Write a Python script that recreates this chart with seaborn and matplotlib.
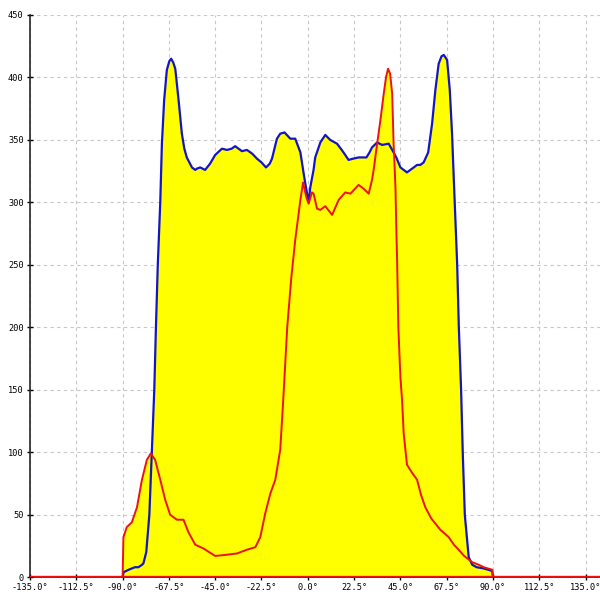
import seaborn as sns
import pandas as pd
from matplotlib import pyplot as plt
import matplotlib.ticker as mtick

# Angles (deg) and intensities
blue_angle = [-90.0, -89.5, -87.0, -84.0, -82.3, -80.5, -79.9, -78.5, -77.0, -75.8, -74.6,
              -73.8, -72.9, -71.7, -70.9, -69.8, -68.5, -67.3, -66.4, -65.4, -64.4, -62.8,
              -61.2, -60.0, -58.8, -56.3, -54.7, -53.9, -52.3, -49.9, -47.5, -45.0, -41.7,
              -39.3, -37.0, -35.3, -32.0, -29.6, -27.0, -24.7, -22.5, -20.3, -18.5, -17.4,
              -15.0, -13.4, -11.3, -8.5, -6.1, -3.6, -2.0, -1.2, 0.4, 1.2, 2.8, 3.6, 6.1,
              8.5, 10.9, 14.2, 16.5, 18.2, 19.8, 22.0, 24.7, 28.5, 30.0, 31.2, 33.7, 36.1,
              39.3, 41.7, 43.0, 45.0, 46.6, 48.2, 49.0, 51.5, 53.1, 54.7, 56.3, 58.5, 60.4,
              62.0, 63.6, 65.0, 66.1, 67.7, 69.0, 70.1, 70.4, 71.4, 72.6, 73.4, 74.5, 75.3,
              76.3, 78.2, 79.9, 82.0, 85.5, 89.6, 90.0]
blue_value = [0, 4, 6, 8, 8, 10, 11, 20, 50, 100, 150,
              200, 250, 300, 347, 382, 406, 413, 415, 412, 407, 382,
              355, 343, 336, 328, 326, 327, 328, 326, 331, 338, 343,
              342, 343, 345, 341, 342, 339, 335, 332, 328, 331, 335,
              351, 355, 356, 351, 351, 340, 323, 315, 300, 312, 326, 336, 348,
              354, 350, 347, 342, 338, 334, 335, 336, 336, 340, 344, 348, 346,
              347, 340, 336, 328, 326, 324, 325, 328, 330, 330, 332, 340, 363,
              390, 411, 417, 418, 414, 390, 355, 342, 300, 250, 200, 150, 100,
              50, 16, 10, 8, 7, 5, 0]

red_angle = [-135.0, -90.0, -89.6, -88.0, -85.5, -83.0, -80.6, -78.2, -76.3, -74.2, -71.7,
             -69.3, -66.9, -63.6, -60.4, -58.0, -54.7, -50.7, -45.0, -39.3, -34.4, -29.6,
             -25.5, -23.1, -20.7, -18.2, -15.8, -13.4, -12.0, -10.0, -8.0, -6.1, -3.6,
             -2.3, -0.7, 0.4, 2.0, 2.8, 4.5, 6.1, 8.5, 11.8, 15.0, 18.2, 20.7, 24.7, 27.1,
             29.6, 31.2, 32.0, 33.7, 35.3, 36.9, 38.0, 39.0, 40.0, 41.0, 41.7, 42.6, 43.0,
             43.4, 44.0, 45.0, 45.8, 46.6, 48.2, 50.5, 53.1, 55.0, 57.1, 60.0, 64.4, 68.5,
             71.0, 73.3, 76.0, 79.9, 83.0, 85.5, 89.6, 90.0, 142.0]
red_value = [0, 0, 32, 40, 44, 56, 78, 94, 99, 94, 78,
             62, 50, 46, 46, 36, 26, 23, 17, 18, 19, 22,
             24, 32, 51, 67, 78, 102, 140, 200, 240, 270, 302,
             316, 304, 299, 308, 307, 295, 294, 297, 290, 302, 308, 307, 314, 311,
             307, 318, 326, 347, 366, 387, 400, 407, 403, 387, 347, 312, 280,
             254, 200, 160, 142, 115, 90, 84, 78, 66, 56, 47, 38, 32,
             26, 22, 17, 12, 10, 8, 6, 0, 0]

x_ticks = [-135.0, -112.5, -90.0, -67.5, -45.0, -22.5, 0.0, 22.5, 45.0, 67.5, 90.0, 112.5, 135.0]
y_ticks = [0, 50, 100, 150, 200, 250, 300, 350, 400, 450]


def main():
    sns.set_style("ticks")
    plt.rcParams['font.family'] = ['DejaVu Sans Mono']
    plt.rcParams['font.size'] = 6.2

    blue = pd.DataFrame({'angle': blue_angle, 'value': blue_value})
    red = pd.DataFrame({'angle': red_angle, 'value': red_value})

    fig = plt.figure(figsize=(6, 6), dpi=100)
    ax = fig.add_axes([0.05, 0.038, 0.95, 0.937])

    # yellow areas under both curves
    ax.fill_between(blue['angle'], blue['value'], color='#ffff00', lw=0, zorder=1)
    ax.fill_between(red['angle'], red['value'], color='#ffff00', lw=0, zorder=1)

    sns.lineplot(data=blue, x='angle', y='value', ax=ax, color='#1414c8', lw=1.6,
                 sort=False, errorbar=None, zorder=3)
    sns.lineplot(data=red, x='angle', y='value', ax=ax, color='#ee1111', lw=1.4,
                 sort=False, errorbar=None, zorder=4)
    # thicker red baseline
    ax.axhline(0, color='#ee1111', lw=2.4, zorder=5)

    ax.set_xlim(-135, 142)
    ax.set_ylim(0, 450)
    ax.set_xticks(x_ticks)
    ax.set_yticks(y_ticks)
    ax.xaxis.set_major_formatter(mtick.FuncFormatter(lambda v, p: f'{v:.1f}°'))
    ax.set_xlabel('')
    ax.set_ylabel('')

    ax.grid(True, color='#c8c8c8', linestyle=(0, (3, 3)), linewidth=0.8, zorder=0)
    ax.set_axisbelow(True)
    sns.despine(ax=ax, top=True, right=True)
    ax.spines['left'].set_linewidth(1.2)
    ax.spines['bottom'].set_linewidth(1.2)
    ax.tick_params(axis='both', direction='inout', length=5, width=1.0, pad=2, colors='black')

    fig.savefig('out.png', dpi=100)


if __name__ == "__main__":
    main()
